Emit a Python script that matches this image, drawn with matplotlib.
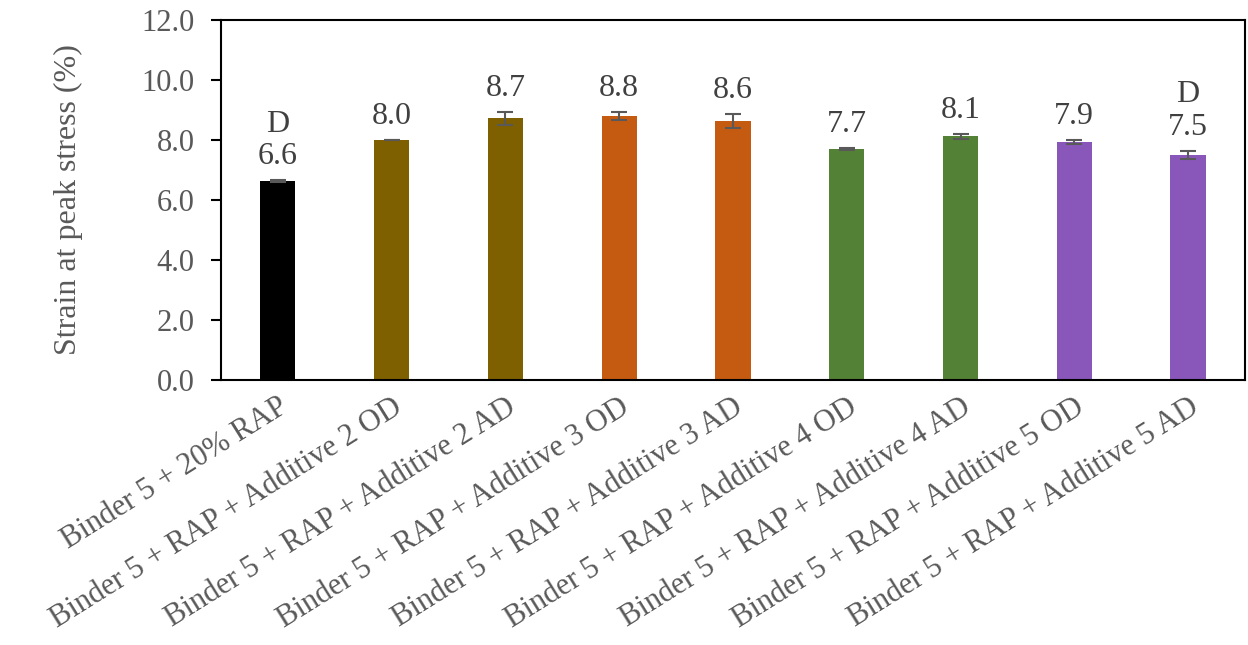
import matplotlib.pyplot as plt
import numpy as np

plt.rcParams['font.family'] = ['Liberation Serif', 'DejaVu Serif']

# data
categories = [
    "Binder 5 + 20% RAP",
    "Binder 5 + RAP + Additive 2 OD",
    "Binder 5 + RAP + Additive 2 AD",
    "Binder 5 + RAP + Additive 3 OD",
    "Binder 5 + RAP + Additive 3 AD",
    "Binder 5 + RAP + Additive 4 OD",
    "Binder 5 + RAP + Additive 4 AD",
    "Binder 5 + RAP + Additive 5 OD",
    "Binder 5 + RAP + Additive 5 AD",
]
values = [6.63, 8.00, 8.72, 8.79, 8.64, 7.70, 8.12, 7.93, 7.50]
errors = [0.02, 0.01, 0.22, 0.14, 0.23, 0.02, 0.08, 0.08, 0.14]
letters = ["D", "", "", "", "", "", "", "", "D"]
colors = ["#000000", "#7F6000", "#7F6000", "#C55A11", "#C55A11",
          "#538135", "#538135", "#8957BA", "#8957BA"]

text_grey = "#595959"
label_grey = "#404040"
fs = 22

fig = plt.figure(figsize=(12.48, 6.45), dpi=100)
ax = fig.add_axes([0.177, 0.411, 0.8206, 0.558])

x = np.arange(len(categories))
ax.bar(x, values, width=0.31, color=colors, zorder=2)
ax.errorbar(x, values, yerr=errors, fmt='none', ecolor='#595959',
            elinewidth=1.5, capsize=5.5, capthick=1.5, zorder=3)

# value labels (with letter groups on top)
for xi, v, e, l in zip(x, values, errors, letters):
    txt = "%.1f" % v
    if l:
        txt = l + "\n" + txt
    ax.annotate(txt, (xi, v + e), xytext=(0, 11.5), textcoords='offset points',
                ha='center', va='baseline', fontsize=23, color=label_grey,
                linespacing=1.15)

ax.set_xlim(-0.5, len(categories) - 0.5)
ax.set_ylim(0, 12)
ax.set_yticks(np.arange(0, 12.1, 2))
ax.set_yticklabels(["%.1f" % t for t in np.arange(0, 12.1, 2)])

ax.set_xticks(x)
ax.set_xticklabels(categories, rotation=32, ha='right', rotation_mode='anchor')

ax.tick_params(axis='x', length=0, pad=9, labelsize=fs, labelcolor=text_grey)
ax.tick_params(axis='y', direction='out', length=7, width=1.5,
               labelsize=fs, labelcolor=text_grey, pad=12)

for s in ax.spines.values():
    s.set_linewidth(1.5)
    s.set_color('black')

ax.set_ylabel("Strain at peak stress (%)", fontsize=23, color=text_grey,
              labelpad=42)

fig.savefig("out.png", dpi=100)
